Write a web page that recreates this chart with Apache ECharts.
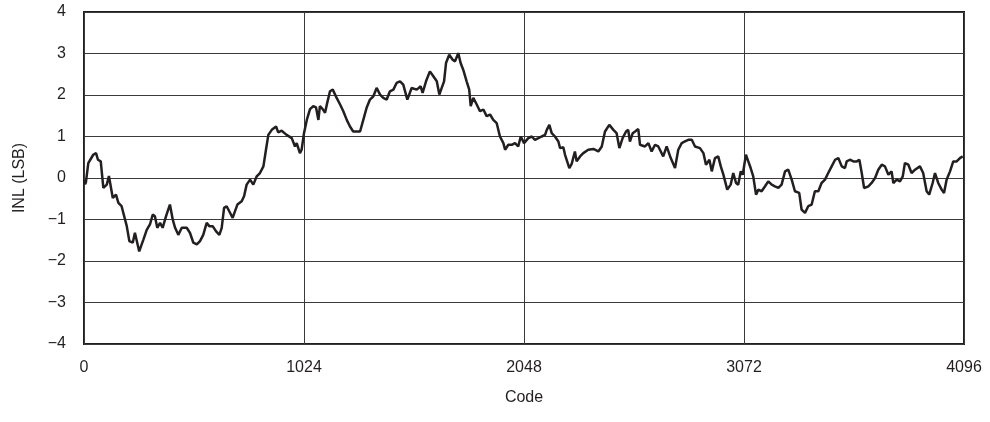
<!DOCTYPE html>
<html>
<head>
<meta charset="utf-8">
<script src="https://cdn.jsdelivr.net/npm/echarts@6/dist/echarts.min.js"></script>
<style>
  html, body { margin: 0; padding: 0; background: #fff; }
  #chart { width: 990px; height: 422px; }
</style>
</head>
<body>
<div id="chart"></div>
<script>
  // code values
  var codes = [
    0, 5, 9, 20, 43, 56, 65, 78, 90, 106, 116, 124, 134, 149, 160, 175, 183, 199, 211, 227,
    237, 245, 257, 265, 276, 292, 307, 320, 330, 341, 354, 366, 382, 392, 400, 413, 424, 439, 455, 478,
    493, 509, 525, 540, 555, 571, 583, 599, 614, 630, 641, 652, 664, 676, 692, 703, 714, 734, 745, 757,
    773, 788, 804, 819, 835, 847, 858, 874, 894, 904, 920, 943, 967, 982, 990, 1005, 1013, 1024, 1037, 1052,
    1067, 1080, 1091, 1098, 1111, 1122, 1132, 1145, 1158, 1176, 1192, 1207, 1223, 1238, 1253, 1269, 1285, 1300, 1316, 1331,
    1347, 1362, 1378, 1393, 1409, 1424, 1440, 1455, 1471, 1486, 1505, 1525, 1549, 1567, 1576, 1592, 1610, 1626, 1642, 1654,
    1665, 1676, 1685, 1700, 1716, 1727, 1742, 1753, 1765, 1781, 1793, 1800, 1812, 1828, 1843, 1859, 1874, 1890, 1905, 1921,
    1936, 1952, 1960, 1975, 1991, 2006, 2021, 2033, 2048, 2068, 2084, 2099, 2115, 2130, 2146, 2154, 2166, 2177, 2192, 2208,
    2216, 2231, 2239, 2259, 2270, 2285, 2293, 2309, 2324, 2347, 2371, 2394, 2410, 2425, 2445, 2464, 2479, 2492, 2507, 2523,
    2533, 2541, 2554, 2565, 2580, 2588, 2611, 2627, 2642, 2658, 2673, 2696, 2712, 2731, 2751, 2766, 2782, 2797, 2813, 2829,
    2844, 2867, 2883, 2895, 2911, 2922, 2937, 2952, 2964, 2976, 2994, 3010, 3022, 3035, 3045, 3057, 3066, 3081, 3092, 3103,
    3115, 3128, 3139, 3154, 3170, 3185, 3201, 3216, 3232, 3247, 3263, 3278, 3294, 3309, 3329, 3340, 3356, 3371, 3387, 3402,
    3418, 3433, 3449, 3464, 3480, 3496, 3511, 3527, 3542, 3550, 3565, 3581, 3597, 3609, 3620, 3631, 3651, 3666, 3682, 3697,
    3713, 3728, 3744, 3759, 3767, 3783, 3798, 3811, 3821, 3837, 3852, 3868, 3891, 3906, 3922, 3934, 3950, 3961, 3976, 3992,
    4003, 4015, 4031, 4046, 4062, 4077, 4090
  ];
  // INL (LSB) at each code
  var inl = [
    -0.05, -0.15, -0.1, 0.36, 0.56, 0.6, 0.44, 0.4, -0.24, -0.16, 0.05, 0.04, -0.48, -0.4, -0.6, -0.68, -0.84, -1.16, -1.52, -1.56,
    -1.32, -1.28, -1.77, -1.77, -1.49, -1.25, -1.12, -0.88, -0.92, -1.2, -1.08, -1.2, -0.92, -0.76, -0.64, -1.0, -1.2, -1.37, -1.2, -1.2,
    -1.32, -1.56, -1.6, -1.52, -1.37, -1.08, -1.16, -1.16, -1.28, -1.37, -1.2, -0.72, -0.68, -0.8, -0.96, -0.8, -0.64, -0.56, -0.44, -0.16,
    -0.04, -0.16, 0.04, 0.12, 0.28, 0.68, 1.04, 1.16, 1.24, 1.1, 1.14, 1.04, 0.96, 0.76, 0.84, 0.6, 0.68, 1.08, 1.4, 1.66,
    1.73, 1.7, 1.4, 1.73, 1.66, 1.57, 1.81, 2.09, 2.13, 1.93, 1.77, 1.61, 1.4, 1.24, 1.12, 1.12, 1.12, 1.4, 1.7, 1.89,
    1.97, 2.17, 2.01, 1.93, 1.89, 2.09, 2.13, 2.29, 2.33, 2.25, 1.89, 2.17, 2.13, 2.21, 2.05, 2.33, 2.57, 2.45, 2.33, 2.01,
    2.17, 2.33, 2.77, 2.97, 2.85, 2.81, 3.01, 2.77, 2.61, 2.33, 2.13, 1.73, 1.93, 1.77, 1.61, 1.65, 1.49, 1.53, 1.4, 1.32,
    1.0, 0.84, 0.68, 0.8, 0.8, 0.84, 0.76, 1.0, 0.84, 0.96, 1.0, 0.92, 0.96, 1.0, 1.04, 1.16, 1.28, 1.08, 1.0, 0.88,
    0.72, 0.74, 0.56, 0.24, 0.34, 0.64, 0.4, 0.52, 0.6, 0.68, 0.7, 0.64, 0.76, 1.12, 1.28, 1.16, 1.08, 0.72, 0.96, 1.12,
    1.16, 0.88, 1.08, 1.12, 1.18, 0.8, 0.76, 0.84, 0.64, 0.8, 0.76, 0.52, 0.76, 0.48, 0.24, 0.68, 0.84, 0.88, 0.92, 0.92,
    0.76, 0.72, 0.6, 0.32, 0.44, 0.16, 0.48, 0.52, 0.28, 0.08, -0.28, -0.16, 0.12, -0.12, -0.16, 0.16, 0.08, 0.56, 0.4, 0.24,
    0.04, -0.4, -0.28, -0.32, -0.2, -0.08, -0.16, -0.2, -0.24, -0.16, 0.16, 0.2, -0.04, -0.32, -0.36, -0.76, -0.84, -0.68, -0.64, -0.32,
    -0.32, -0.12, -0.04, 0.12, 0.28, 0.44, 0.48, 0.28, 0.24, 0.4, 0.44, 0.4, 0.4, 0.44, 0.12, -0.24, -0.2, -0.12, 0, 0.2,
    0.32, 0.28, 0.08, 0.16, -0.12, -0.04, -0.08, 0.04, 0.36, 0.32, 0.12, 0.2, 0.28, 0.12, -0.32, -0.4, -0.12, 0.12, -0.12, -0.28,
    -0.36, -0.04, 0.16, 0.4, 0.4, 0.48, 0.52
  ];

  var xTicks = [0, 1024, 2048, 3072, 4096];
  var yTicks = [-4, -3, -2, -1, 0, 1, 2, 3, 4];

  var points = [];
  for (var i = 0; i < codes.length; i++) {
    points.push([codes[i], inl[i]]);
  }

  var textColor = '#231f20';
  var font = 'Liberation Sans';
  var myChart = echarts.init(document.getElementById('chart'), null, { renderer: 'canvas' });
  myChart.setOption({
    animation: false,
    grid: {
      left: 84, right: 26, top: 12, bottom: 78,
      show: true,
      borderColor: '#231f20',
      borderWidth: 2
    },
    xAxis: {
      type: 'value',
      min: xTicks[0],
      max: xTicks[xTicks.length - 1],
      interval: 1024,
      name: 'Code',
      nameLocation: 'middle',
      nameGap: 46,
      nameTextStyle: { fontFamily: font, fontSize: 16, color: textColor },
      axisLine: { show: false },
      axisTick: { show: false },
      axisLabel: {
        fontFamily: font, fontSize: 16, color: textColor, margin: 16,
        formatter: function (v) { return String(v); }
      },
      splitLine: { show: true, lineStyle: { color: '#3a3a3a', width: 1 } }
    },
    yAxis: {
      type: 'value',
      min: yTicks[0],
      max: yTicks[yTicks.length - 1],
      interval: 1,
      name: 'INL (LSB)',
      nameLocation: 'middle',
      nameGap: 56,
      nameRotate: 90,
      nameTextStyle: { fontFamily: font, fontSize: 16, color: textColor },
      axisLine: { show: false },
      axisTick: { show: false },
      axisLabel: {
        fontFamily: font, fontSize: 16, color: textColor, margin: 18,
        formatter: function (v) { return String(v).replace('-', '\u2212'); }
      },
      splitLine: { show: true, lineStyle: { color: '#3a3a3a', width: 1 } }
    },
    series: [{
      type: 'line',
      data: points,
      showSymbol: false,
      lineStyle: { color: '#231f20', width: 2.5 }
    }]
  });
</script>
</body>
</html>
